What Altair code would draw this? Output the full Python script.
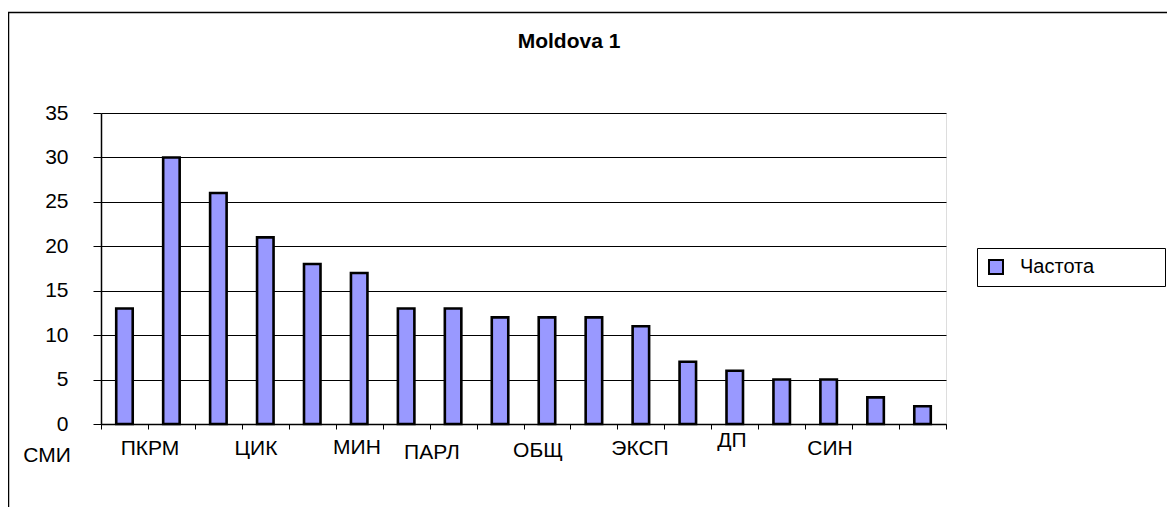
import altair as alt
import pandas as pd

FONT = "Liberation Sans"

# ---- data ----
title_text = "Moldova 1"
idx = list(range(1, 19))
values = [13, 30, 26, 21, 18, 17, 13, 13, 12, 12, 12, 11, 7, 6, 5, 5, 3, 2]
series_name = "Частота"

label_texts = ["СМИ", "ПКРМ", "ЦИК", "МИН", "ПАРЛ", "ОБЩ", "ЭКСП", "ДП", "СИН"]
label_anchor = [1, 2, 4, 6, 8, 10, 12, 14, 16]

# ---- style (offsets for the staggered category labels) ----
label_dx = [-77.5, -21.4, -9.3, -2.2, -21.1, -9.0, -0.9, -2.8, 1.3]
label_y = [349, 342, 342, 341, 346, 344, 342, 334, 342]

W, H = 845, 311
PAD_L, PAD_T = 93, 105
CANVAS_W, CANVAS_H = 1159, 499

df = pd.DataFrame({"idx": idx, "value": values, "series": [series_name] * len(idx)})

x_axis = alt.Axis(labels=False, ticks=True, tickBand="extent", tickSize=5,
                  tickColor="black", domainColor="black", domainWidth=1.5,
                  grid=False, title=None)

x_enc = alt.X("idx:O", scale=alt.Scale(domain=idx, paddingInner=0, paddingOuter=0), axis=x_axis)

bars = alt.Chart(df).mark_bar(size=16.5, stroke="black", strokeWidth=2.6).encode(
    x=x_enc,
    y=alt.Y("value:Q", scale=alt.Scale(domain=[0, 35], nice=False),
            axis=alt.Axis(values=[0, 5, 10, 15, 20, 25, 30, 35], grid=True,
                          gridColor="black", gridOpacity=1, gridWidth=1,
                          tickColor="black", tickSize=8, domainColor="black",
                          domainWidth=1.5, labelFont=FONT, labelFontSize=21,
                          labelColor="black", labelPadding=25, title=None)),
    color=alt.Color("series:N",
                    scale=alt.Scale(domain=[series_name], range=["#9999FF"]),
                    legend=alt.Legend(orient="none", legendX=876, legendY=135,
                                      title=None, symbolType="square", symbolSize=196,
                                      symbolStrokeColor="black", symbolStrokeWidth=2,
                                      labelFont=FONT, labelFontSize=20, labelColor="black",
                                      padding=9, labelOffset=14, labelLimit=400)),
)

# chart outer frame and legend frame (decoration)
border = alt.Chart(alt.Data(values=[{"b": 1}])).mark_rect(
    filled=False, stroke="black", strokeWidth=1.5
).encode(
    x=alt.value(-92.5), x2=alt.value(CANVAS_W + 50),
    y=alt.value(-100.5), y2=alt.value(CANVAS_H + 50),
)
legend_box = alt.Chart(alt.Data(values=[{"b": 1}])).mark_rect(
    fill="white", stroke="black", strokeWidth=1
).encode(
    x=alt.value(876.5), x2=alt.value(1064.5),
    y=alt.value(135.5), y2=alt.value(173.5),
)

title = alt.Chart(alt.Data(values=[{"t": title_text}])).mark_text(
    font=FONT, fontSize=21, fontWeight="bold", color="black",
    align="center", baseline="alphabetic"
).encode(x=alt.value(468), y=alt.value(-65), text="t:N")

layers = [border, legend_box, bars, title]
for t, a, dx, yy in zip(label_texts, label_anchor, label_dx, label_y):
    layers.append(
        alt.Chart(alt.Data(values=[{"idx": a, "label": t}])).mark_text(
            dx=dx, align="center", baseline="alphabetic", font=FONT, fontSize=21, color="black"
        ).encode(x=alt.X("idx:O", axis=x_axis), y=alt.value(yy), text="label:N")
    )

chart = alt.layer(*layers).properties(
    width=W, height=H,
    autosize=alt.AutoSizeParams(type="none"),
    padding={"left": PAD_L, "top": PAD_T, "right": CANVAS_W - PAD_L - W,
             "bottom": CANVAS_H - PAD_T - H},
).configure_view(fill="#C0C0C0", stroke="#808080", strokeWidth=2).configure(background="white")

chart.save("out.html", embed_options={"renderer": "svg", "actions": False})
